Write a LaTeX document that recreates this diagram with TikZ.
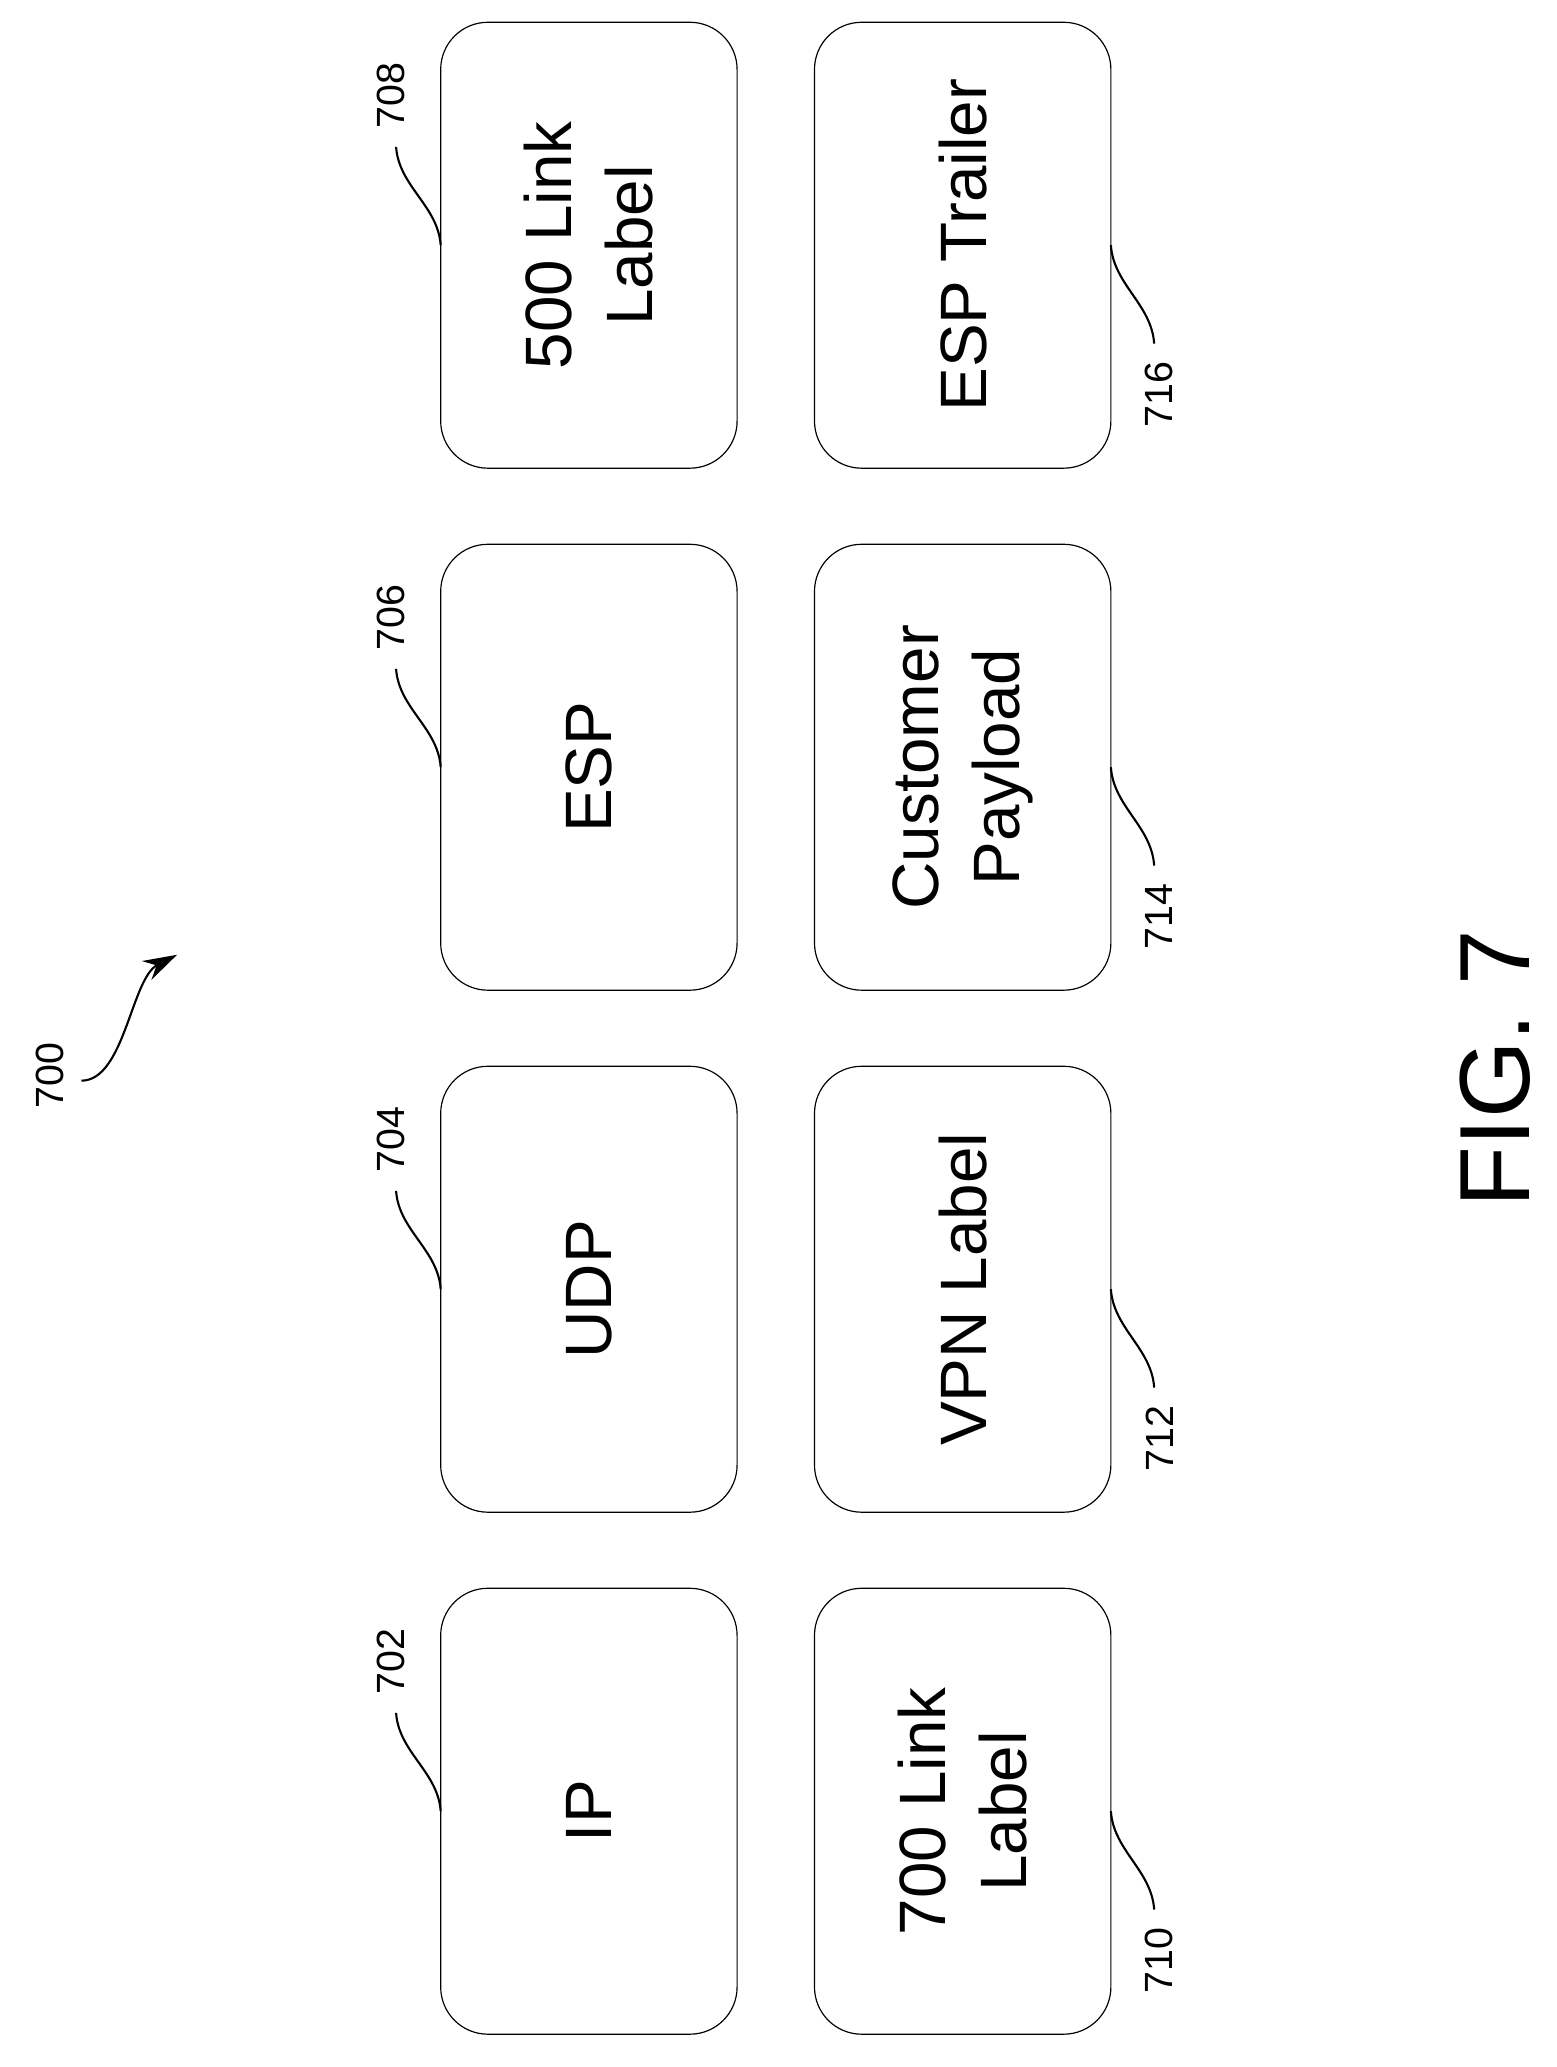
\documentclass[tikz,border=0pt]{standalone}
\usepackage{fontspec}
\setmainfont{Liberation Sans}
\usetikzlibrary{arrows.meta}
\tikzset{
  field/.style={draw,rounded corners=36pt,line width=0.9pt,rotate=90,
    minimum width=340pt,minimum height=226pt,align=center,
    font=\fontsize{50}{62}\selectfont},
  ref/.style={rotate=90,font=\fontsize{30}{36}\selectfont},
  leader/.style={line width=1.6pt}
}
\begin{document}
\begin{tikzpicture}[x=1pt,y=1pt]
\useasboundingbox (0,0) rectangle (1187,1576);
% upper row of fields
\node[field] (ip)  at (449,195) {IP};
\node[field] (udp) at (449,593) {UDP};
\node[field] (esp) at (449,991) {ESP};
\node[field] (l500) at (449,1389) {500 Link\\Label};
% lower row of fields
\node[field] (l700) at (734,195) {700 Link\\Label};
\node[field] (vpn)  at (734,593) {VPN Label};
\node[field] (pay)  at (734,991) {Customer\\Payload};
\node[field] (trl)  at (734,1389) {ESP Trailer};
% reference numerals
\foreach \b/\n/\y in {ip/702/195,udp/704/593,esp/706/991,l500/708/1389}{
  \node[ref] (r\n) at (298,\y+114) {\n};
  \coordinate (s\n) at (302,\y+75);
  \coordinate (e\n) at (336,\y);
  \draw[leader] (s\n) .. controls (304,\y+45) and (334,\y+30) .. (e\n);
}
\foreach \b/\n/\y in {l700/710/195,vpn/712/593,pay/714/991,trl/716/1389}{
  \node[ref] (r\n) at (884,\y-114) {\n};
  \coordinate (s\n) at (880,\y-75);
  \coordinate (e\n) at (847,\y);
  \draw[leader] (e\n) .. controls (849,\y-30) and (878,\y-45) .. (s\n);
}
% figure number
\node[ref] (r700) at (38,756) {700};
\coordinate (a700) at (135,848);
\draw[leader,-{Stealth[length=26pt,width=16pt]}] (62,752) .. controls (95,752) and (100,830) .. (a700);
\node[rotate=90,font=\fontsize{76}{90}\selectfont] (fig) at (1140,761) {FIG. 7};
\end{tikzpicture}
\end{document}
